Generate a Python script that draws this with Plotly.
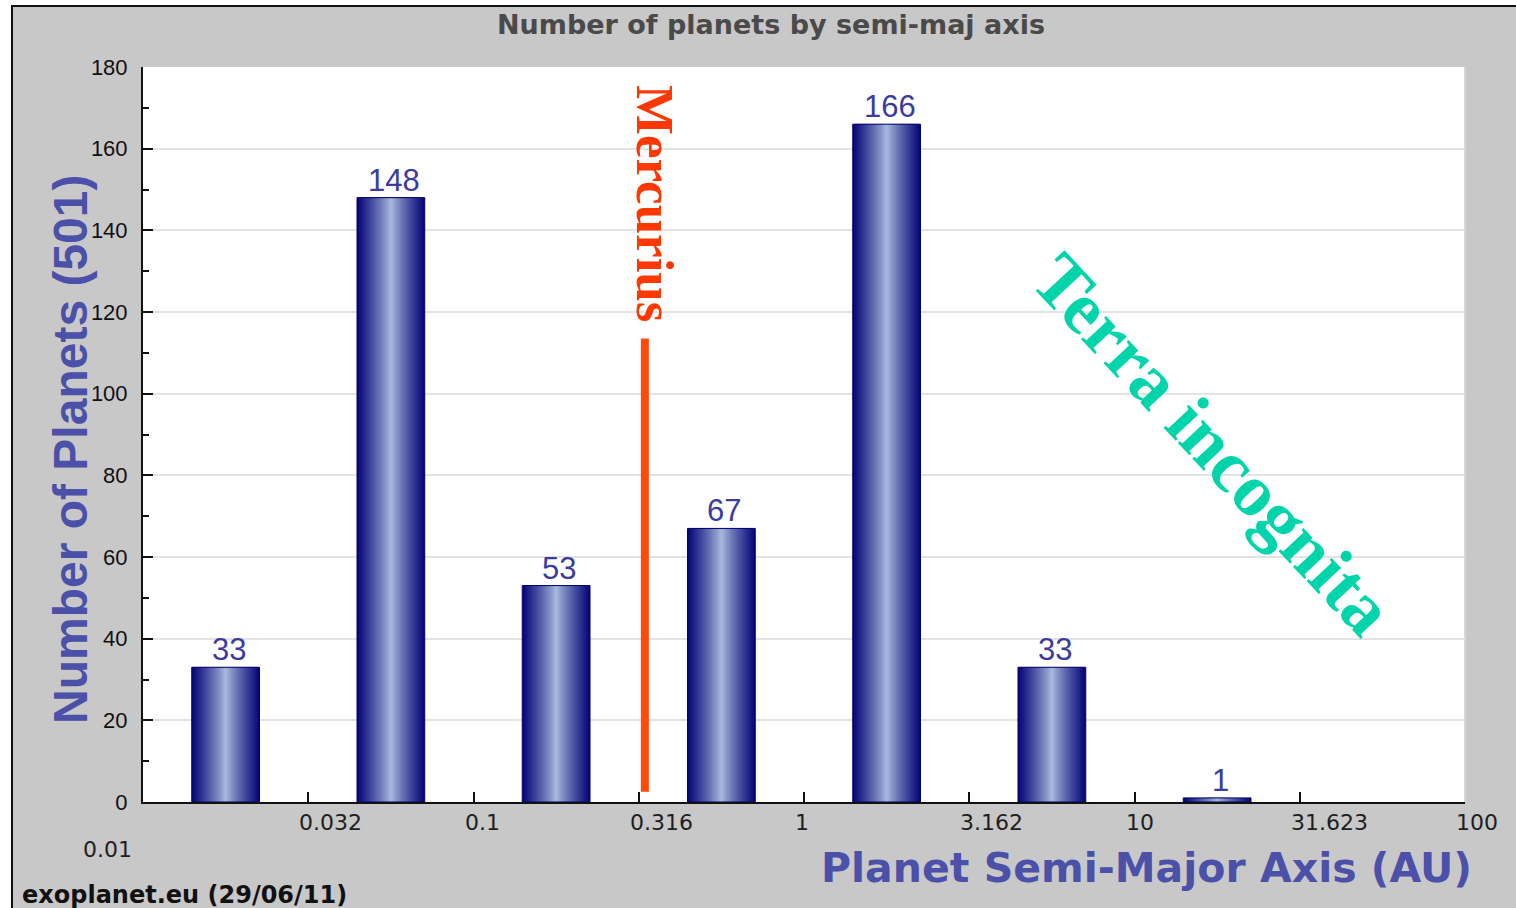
import math
import plotly.graph_objects as go

# Half-decade semi-major axis bins (AU) and the number of known planets in each
BIN_EDGES_AU = [0.01, 0.031623, 0.1, 0.316228, 1, 3.162278, 10, 31.622777, 100]
PLANET_COUNTS = [33, 148, 53, 67, 166, 33, 1, 0]

# x-axis ticks (AU) and the labels printed under them
TICK_VALUES_AU = [0.031623, 0.1, 0.316228, 1, 3.162278, 10, 31.622777, 100]
TICK_LABELS = ["0.032", "0.1", "0.316", "1", "3.162", "10", "31.623", "100"]
AXIS_START_LABEL = "0.01"

MERCURIUS_AU = 0.33  # marker line for Mercury's orbit
TOTAL = sum(PLANET_COUNTS)

# ---- figure geometry (pixels) ----
W, H = 1516, 908
PL, PR, PT, PB = 143, 1465, 67, 802


def fx(px):
    return (px - PL) / (PR - PL)


def fy(py):
    return (PB - py) / (PB - PT)


log_edges = [math.log10(v) for v in BIN_EDGES_AU]
centers = [(a + b) / 2 for a, b in zip(log_edges[:-1], log_edges[1:])]
bars = [(c, n) for c, n in zip(centers, PLANET_COUNTS) if n > 0]
bx = [c for c, _ in bars]
by = [n for _, n in bars]
BAR_W = 0.205  # in decades

DARK = (4, 4, 118)
LIGHT = (172, 190, 222)


def mix(t):
    r, g, b = (round(LIGHT[i] + (DARK[i] - LIGHT[i]) * t) for i in range(3))
    return f"rgb({r},{g},{b})"


fig = go.Figure()

# Cylinder shading: nested bars, darkest outside, lightest in the middle
K = 18
for k in range(K):
    d = 1 - k / K
    dm = d - 0.5 / K
    fig.add_trace(go.Bar(
        x=bx, y=by, width=BAR_W * d,
        marker=dict(color=mix(dm ** 0.85), line=dict(width=0)),
        hoverinfo="skip", showlegend=False,
    ))

# Bar outlines
fig.add_trace(go.Bar(
    x=bx, y=by, width=BAR_W,
    marker=dict(color="rgba(0,0,0,0)", line=dict(color="#00006e", width=1)),
    hoverinfo="skip", showlegend=False,
))

annotations = []

# Count labels over the bars
for c, n in bars:
    annotations.append(dict(
        x=c, y=n, xref="x", yref="y", text=str(n), showarrow=False,
        xanchor="center", yanchor="bottom", yshift=-2, xshift=3,
        font=dict(family="Liberation Sans", size=31, color="#3b3ba0"),
    ))

# x tick labels, set just right of each tick
for v, lab in zip(TICK_VALUES_AU, TICK_LABELS):
    annotations.append(dict(
        x=math.log10(v), y=fy(822), xref="x", yref="paper", text=lab,
        showarrow=False, xanchor="left", yanchor="middle", xshift=-11,
        font=dict(family="DejaVu Sans", size=22, color="#1e1e1e"),
    ))
annotations.append(dict(
    x=fx(81), y=fy(850), xref="paper", yref="paper", text=AXIS_START_LABEL,
    showarrow=False, xanchor="left", yanchor="middle",
    font=dict(family="DejaVu Sans", size=22, color="#1e1e1e"),
))

# Titles
annotations += [
    dict(x=fx(771), y=fy(25), xref="paper", yref="paper",
         text="Number of planets by semi-maj axis", showarrow=False,
         xanchor="center", yanchor="middle",
         font=dict(family="DejaVu Sans", size=27, color="#4a4a4a", weight="bold")),
    dict(x=fx(1146), y=fy(868), xref="paper", yref="paper",
         text="Planet Semi-Major Axis (AU)", showarrow=False,
         xanchor="center", yanchor="middle",
         font=dict(family="DejaVu Sans", size=41, color="#4b50a8", weight="bold")),
    dict(x=fx(71), y=fy(450), xref="paper", yref="paper",
         text=f"Number of Planets ({TOTAL})", showarrow=False, textangle=-90,
         xanchor="center", yanchor="middle",
         font=dict(family="Liberation Sans", size=48, color="#4b50a8", weight="bold")),
    dict(x=fx(20), y=fy(895), xref="paper", yref="paper",
         text="exoplanet.eu (29/06/11)", showarrow=False,
         xanchor="left", yanchor="middle",
         font=dict(family="DejaVu Sans", size=24, color="#111111", weight="bold")),
    dict(x=fx(655), y=fy(203), xref="paper", yref="paper",
         text="Mercurius", showarrow=False, textangle=90,
         xanchor="center", yanchor="middle",
         font=dict(family="Liberation Serif", size=53, color="#ff3800", weight="bold")),
    dict(x=fx(1213), y=fy(444), xref="paper", yref="paper",
         text="Terra incognita", showarrow=False, textangle=47,
         xanchor="center", yanchor="middle",
         font=dict(family="Liberation Serif", size=74, color="#00d4aa", weight="bold")),
]

mx = math.log10(MERCURIUS_AU)
shapes = [
    # Mercury's orbit marker
    dict(type="line", xref="x", yref="y", x0=mx, x1=mx, y0=2.5, y1=113.5,
         line=dict(color="#ff4a0a", width=8), layer="above"),
    # light right border of the plotting area
    dict(type="line", xref="paper", yref="paper", x0=1, x1=1, y0=0, y1=1,
         line=dict(color="#d6d6d6", width=2), layer="below"),
    # white page margin above / left of the panel
    dict(type="rect", xref="paper", yref="paper", x0=fx(0), x1=fx(W),
         y0=fy(5), y1=fy(0), fillcolor="white", line=dict(width=0), layer="above"),
    dict(type="rect", xref="paper", yref="paper", x0=fx(0), x1=fx(11),
         y0=fy(H), y1=fy(0), fillcolor="white", line=dict(width=0), layer="above"),
    # panel frame
    dict(type="line", xref="paper", yref="paper", x0=fx(11), x1=fx(W),
         y0=fy(6), y1=fy(6), line=dict(color="#111111", width=2), layer="above"),
    dict(type="line", xref="paper", yref="paper", x0=fx(12), x1=fx(12),
         y0=fy(5), y1=fy(H), line=dict(color="#111111", width=2), layer="above"),
]

fig.update_layout(
    width=W, height=H,
    margin=dict(l=PL, r=W - PR, t=PT, b=H - PB, pad=0),
    paper_bgcolor="#c8c8c8", plot_bgcolor="white",
    barmode="overlay", showlegend=False,
    annotations=annotations, shapes=shapes,
    xaxis=dict(
        range=[-2, 2], tickmode="array",
        tickvals=[math.log10(v) for v in TICK_VALUES_AU],
        showticklabels=False, ticks="inside", ticklen=10, tickwidth=2,
        tickcolor="#111111", showline=True, linecolor="#111111", linewidth=2,
        showgrid=False, zeroline=False,
    ),
    yaxis=dict(
        range=[0, 180], tick0=0, dtick=20,
        ticks="inside", ticklen=10, tickwidth=2, tickcolor="#111111",
        showline=True, linecolor="#111111", linewidth=2,
        showgrid=True, gridcolor="#e3e3e3", gridwidth=2, zeroline=False,
        tickfont=dict(family="Liberation Sans", size=22, color="#111111"),
        ticklabelstandoff=9,
        minor=dict(ticks="inside", ticklen=6, tickwidth=2, tickcolor="#111111",
                   dtick=10, tick0=0, showgrid=False),
    ),
)

fig.write_html("out.html")
